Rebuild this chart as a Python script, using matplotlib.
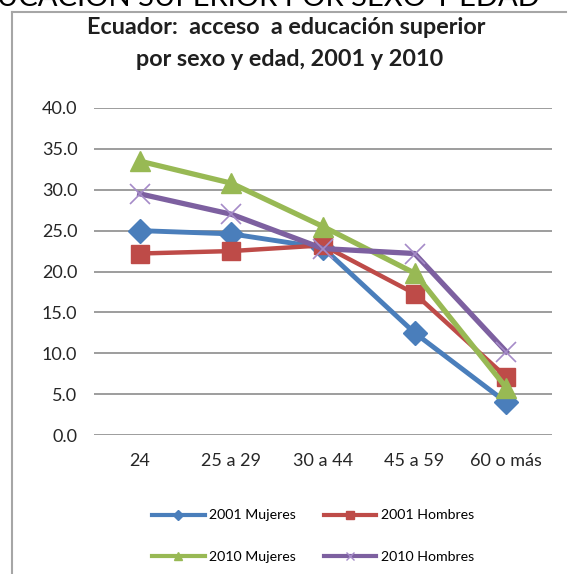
import matplotlib
matplotlib.use("Agg")
import matplotlib.pyplot as plt
from matplotlib.lines import Line2D

plt.rcParams['font.family'] = ['Lato', 'DejaVu Sans']

# datos
edades = ['24', '25 a 29', '30 a 44', '45 a 59', '60 o más']
mujeres_2001 = [25.0, 24.6, 22.9, 12.5, 4.0]
hombres_2001 = [22.2, 22.5, 23.2, 17.3, 7.1]
mujeres_2010 = [33.5, 30.8, 25.5, 19.8, 5.8]
hombres_2010 = [29.5, 27.0, 22.8, 22.2, 10.2]
yticks = [0, 5, 10, 15, 20, 25, 30, 35, 40]

W, H = 569, 574
fig = plt.figure(figsize=(W / 100, H / 100), dpi=100)

# texto cortado de arriba (en la imagen original solo se ve la parte inferior)
fig.text(540 / W, 1 - 6 / H, 'EDUCACION SUPERIOR POR SEXO Y EDAD', ha='right', va='baseline',
         fontsize=21, color='black')

# borde del área del gráfico
fig.add_artist(Line2D([12 / W, 12 / W], [0, 1 - 12 / H], color='#a6a6a6', lw=1.5))
fig.add_artist(Line2D([12 / W, 566 / W], [1 - 12 / H, 1 - 12 / H], color='#a6a6a6', lw=1.5))

fig.text(286 / W, 1 - 27 / H, 'Ecuador:  acceso  a educación superior', ha='center', va='center',
         fontsize=16.8, fontweight='bold', color='#1f1f1f')
fig.text(290 / W, 1 - 60 / H, 'por sexo y edad, 2001 y 2010', ha='center', va='center',
         fontsize=16.8, fontweight='bold', color='#1f1f1f')

ax = fig.add_axes([94 / W, 1 - 435 / H, (552 - 94) / W, (435 - 108) / H])
x = range(len(edades))

azul, rojo, verde, morado = '#4a7ebb', '#be4b48', '#98b954', '#7d60a0'
ax.plot(x, mujeres_2001, color=azul, lw=3.5, marker='D', ms=12, zorder=3)
ax.plot(x, hombres_2001, color=rojo, lw=3.2, marker='s', ms=13, zorder=3)
ax.plot(x, mujeres_2010, color=verde, lw=3.8, marker='^', ms=15, zorder=3)
ax.plot(x, hombres_2010, color=morado, lw=3.8, marker='x', ms=15, mew=1.2,
        mec='#a58bc8', zorder=4)

ax.set_xlim(-0.5, len(edades) - 0.5)
ax.set_ylim(0, 40)
ax.set_yticks(yticks)
ax.set_yticklabels([f'{v:.1f}' for v in yticks])
ax.set_xticks(list(x))
ax.set_xticklabels(edades)
ax.tick_params(axis='y', length=0, pad=12, labelsize=13, labelcolor='#262626')
ax.tick_params(axis='x', length=0, pad=13, labelsize=13, labelcolor='#262626')
ax.grid(axis='y', color='#8c8c8c', lw=1.2)
ax.set_axisbelow(True)
for s in ax.spines.values():
    s.set_visible(False)

handles = [
    Line2D([], [], color=azul, lw=3, marker='D', ms=5),
    Line2D([], [], color=rojo, lw=3, marker='s', ms=6),
    Line2D([], [], color=verde, lw=3, marker='^', ms=6),
    Line2D([], [], color=morado, lw=3, marker='x', ms=6, mew=1, mec='#a58bc8'),
]
labels = ['2001 Mujeres', '2001 Hombres', '2010 Mujeres', '2010 Hombres']
# orden por filas: ncol=2 llena por columnas
order = [0, 2, 1, 3]
fig.legend([handles[i] for i in order], [labels[i] for i in order], ncol=2,
           loc='center', bbox_to_anchor=(313 / W, 1 - 536 / H), frameon=False,
           fontsize=10.2, handlelength=3.7, handletextpad=0.3, columnspacing=2.0,
           labelspacing=2.05, borderpad=0, borderaxespad=0)

fig.savefig('out.png', dpi=100)
